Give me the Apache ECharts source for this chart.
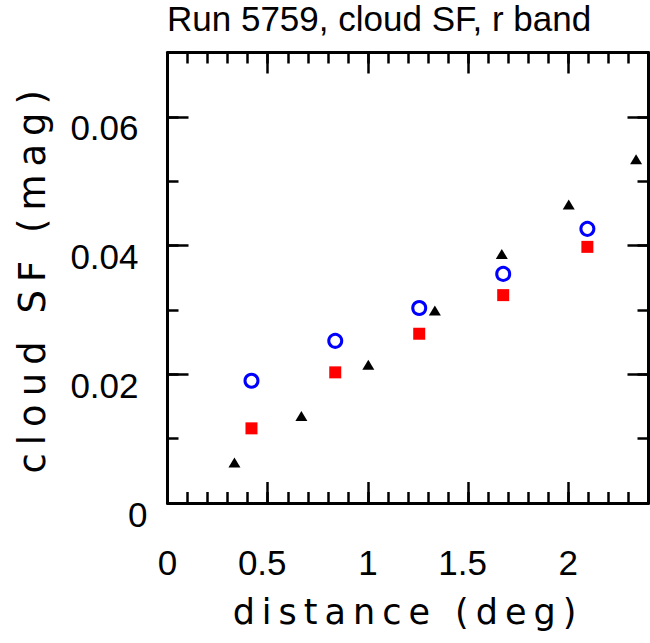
<!DOCTYPE html>
<html>
<head>
<meta charset="utf-8">
<script src="https://cdn.jsdelivr.net/npm/echarts@6/dist/echarts.min.js"></script>
<style>
html,body{margin:0;padding:0;background:#fff;}
#chart{width:650px;height:643px;}
#chart text[style*="Verdana"]{letter-spacing:8px;}
#chart text[style*="Tahoma"]{letter-spacing:7px;}
</style>
</head>
<body>
<div id="chart"></div>
<script>
// ---- data ----
const xTickLabels = ['0', '0.5', '1', '1.5', '2'];
const yTickLabels = ['0', '0.02', '0.04', '0.06'];

const distCircle = [0.419, 0.837, 1.256, 1.675, 2.095];
const sfCircle   = [0.0190, 0.0252, 0.0303, 0.0356, 0.0426];

const distSquare = [0.419, 0.837, 1.256, 1.675, 2.095];
const sfSquare   = [0.0116, 0.0203, 0.0263, 0.0323, 0.0398];

const distTriangle = [0.334, 0.668, 1.002, 1.334, 1.668, 2.002, 2.338];
const sfTriangle   = [0.0063, 0.0135, 0.0215, 0.0299, 0.0387, 0.0464, 0.0534];

const titleText = 'Run 5759, cloud SF, r band';
const xName = 'distance (deg)';
const yName = 'cloud SF (mag)';

// ---- helpers ----
function pair(xs, ys) { return xs.map((x, i) => [x, ys[i]]); }
function findLabel(list, v) {
  for (const s of list) { if (Math.abs(Number(s) - v) < 1e-9) return s; }
  return null;
}
const FONT = 'Liberation Sans, Arial, sans-serif';
const TICK_FS = 35;

const chart = echarts.init(document.getElementById('chart'), null, {renderer: 'svg'});

const baseAxis = {
  type: 'value',
  axisLine: {show: false, onZero: false},
  splitLine: {show: false},
  axisLabel: {show: false},
};
function xAx(pos, major) {
  return Object.assign({}, baseAxis, {
    position: pos, min: 0, max: 2.4, interval: major ? 0.5 : 0.1,
    axisLine: {show: major, onZero: false, lineStyle: {color: '#000', width: 3}},
    axisTick: {show: true, inside: true, length: major ? 21 : 11, lineStyle: {color: '#000', width: 2.5}}
  });
}
function yAx(pos, major) {
  return Object.assign({}, baseAxis, {
    position: pos, min: 0, max: 0.07, interval: major ? 0.02 : 0.01,
    axisLine: {show: major, onZero: false, lineStyle: {color: '#000', width: 3}},
    axisTick: {show: true, inside: true, length: major ? 21 : 11, lineStyle: {color: '#000', width: 2.5}}
  });
}

const xMain = xAx('bottom', true);
xMain.axisLabel = {
  show: true, margin: 42, color: '#000', fontSize: TICK_FS, fontFamily: FONT,
  showMaxLabel: false,
  formatter: function (v) {
    const s = findLabel(xTickLabels, v);
    if (s === null) return '';
    return s.indexOf('.') >= 0 ? '{d|' + s + '}' : '{p|' + s + '}';
  },
  rich: {
    d: {fontSize: TICK_FS, fontFamily: FONT, color: '#000', padding: [0, 11, 0, 0]},
    p: {fontSize: TICK_FS, fontFamily: FONT, color: '#000'}
  }
};
xMain.name = xName;
xMain.nameLocation = 'middle';
xMain.nameGap = 91;
xMain.nameTextStyle = {fontFamily: 'DejaVu Sans, Tahoma', fontSize: 35, color: '#000', fontWeight: 'normal'};

const yMain = yAx('left', true);
yMain.axisLabel = {
  show: true, margin: 20, color: '#000', fontSize: TICK_FS, fontFamily: FONT,
  showMaxLabel: false,
  padding: [22, 0, 0, 0],
  formatter: function (v) {
    const s = findLabel(yTickLabels, v);
    if (s === null) return '';
    return s === '0' ? '{z|' + s + '}' : '{n|' + s + '}';
  },
  rich: {
    n: {fontSize: TICK_FS, fontFamily: FONT, color: '#000', padding: [0, 9, 0, 0]},
    z: {fontSize: TICK_FS, fontFamily: FONT, color: '#000'}
  }
};
yMain.name = yName;
yMain.nameLocation = 'middle';
yMain.nameRotate = 90;
yMain.nameGap = 117;
yMain.nameTextStyle = {fontFamily: 'DejaVu Sans, Verdana', fontSize: 37, color: '#000', fontWeight: 'normal'};

const option = {
  animation: false,
  backgroundColor: '#fff',
  title: {
    text: titleText, left: 167, top: 1, padding: 0,
    textStyle: {fontFamily: FONT, fontSize: 35, fontWeight: 'normal', color: '#000'}
  },
  grid: {left: 167.5, right: 1.5, top: 52.5, bottom: 140, containLabel: false, outerBoundsMode: 'none'},
  xAxis: [xMain, xAx('bottom', false), xAx('top', true), xAx('top', false)],
  yAxis: [yMain, yAx('left', false), yAx('right', true), yAx('right', false)],
  series: [
    {
      type: 'scatter', xAxisIndex: 0, yAxisIndex: 0,
      data: pair(distCircle, sfCircle),
      symbol: 'circle', symbolSize: 13,
      itemStyle: {color: '#ffffff', borderColor: '#0000ff', borderWidth: 3, opacity: 1}
    },
    {
      type: 'scatter', xAxisIndex: 0, yAxisIndex: 0,
      data: pair(distSquare, sfSquare),
      symbol: 'rect', symbolSize: 12,
      itemStyle: {color: '#ff0000', opacity: 1}
    },
    {
      type: 'scatter', xAxisIndex: 0, yAxisIndex: 0,
      data: pair(distTriangle, sfTriangle),
      symbol: 'triangle', symbolSize: [12, 10],
      itemStyle: {color: '#000000', opacity: 1}
    }
  ]
};
chart.setOption(option);
</script>
</body>
</html>
